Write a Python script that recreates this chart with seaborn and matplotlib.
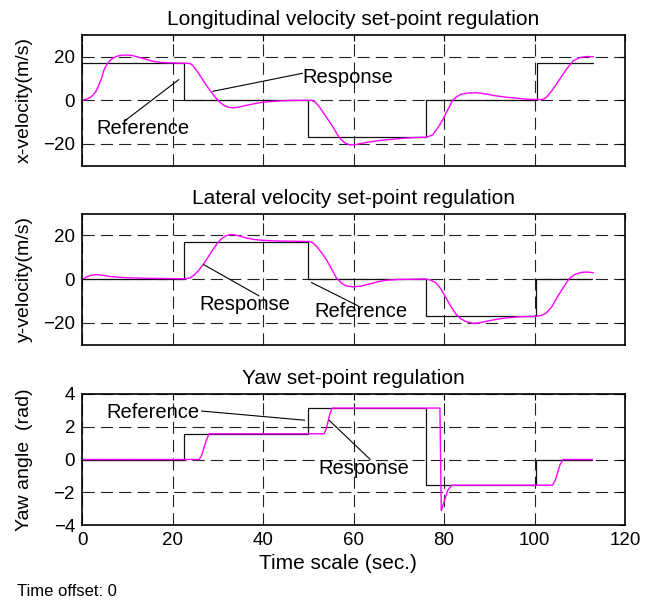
import matplotlib
matplotlib.use("Agg")
import matplotlib.pyplot as plt
import numpy as np
import pandas as pd
import seaborn as sns

# ---------------- data ----------------
# Longitudinal (x) velocity
x_ref_t = [0, 22.6, 50.0, 76.0, 100.5, 113.0]
x_ref_v = [17, 0, -17, 0, 17, 17]
x_resp_t = [0, 1, 2, 3, 3.7, 4.3, 4.8, 5.5, 6.3, 7, 7.8, 8.8, 10, 11, 12, 13, 13.7, 15, 16, 17.4,
            19, 21, 23.3, 24, 24.5, 25.5, 26.5, 27.5, 28.5, 29.5, 30.5, 31.5, 32.5, 33.3, 34.5, 36,
            38, 40, 43, 46, 50, 50.7, 51.5, 52.3, 53.2, 54.3, 55.4, 56.3, 57.3, 58.2, 59.1, 60.2,
            61.3, 63.5, 65.8, 68.7, 71.6, 74, 76, 76.7, 77.5, 78.6, 79.7, 80.4, 81.2, 81.9, 82.8,
            83.7, 85.3, 87, 89.2, 91.5, 93.4, 95.3, 98.2, 101.2, 102, 102.7, 103.8, 104.9, 106,
            107.1, 108.6, 110.1, 111.5, 113]
x_resp_v = [0, 0.5, 1.5, 3.8, 6.8, 10, 13.6, 16.5, 18.5, 19.6, 20.3, 20.7, 20.8, 20.6, 20.1, 19.5, 19.1, 18.3, 17.8, 17.4,
            17.2, 17.1, 17, 16.8, 15.9, 13.2, 10, 6.8, 3.9, 1.2, -1, -2.5, -3.3, -3.5, -3.2, -2.5,
            -1.6, -0.9, -0.4, -0.1, 0, 0, -0.8, -2.6, -5.3, -8.7, -12.1, -15.3, -18.2, -19.7, -20.5, -20.5,
            -20, -19.2, -18.5, -17.9, -17.4, -17.1, -17, -16.6, -15.9, -12.8, -9.1, -6, -3, 0, 1.6,
            2.7, 3.3, 3.5, 2.9, 2, 1.5, 1.1, 0.5, 0.3, 0.5, 1.5, 4.3, 7.6, 11,
            14.4, 18.2, 19.7, 20.1, 20]

# Lateral (y) velocity
y_ref_t = [0, 22.6, 49.9, 76.0, 100.4, 112.8]
y_ref_v = [0, 17, 0, -17, 0, 0]
y_resp_t = [0, 1, 2, 3.2, 4.5, 6, 8, 11, 15, 19, 22.6, 23.8, 24.8, 25.8, 26.8, 27.8, 28.8, 29.7,
            30.7, 31.7, 32.6, 33.5, 34.8, 36.3, 38, 40, 43, 46.7, 50.2, 51, 51.8, 52.9, 54, 55.1,
            56.2, 57.3, 58.4, 59.9, 61.5, 63.5, 65.5, 67.2, 70, 76, 77, 78.2, 79.3, 80.4, 81.5,
            82.6, 83.7, 84.8, 86.3, 87.8, 89.3, 91, 93, 96.6, 100.4, 101.5, 102.6, 103.9, 105.1,
            106.4, 107.6, 108.4, 109.2, 110.3, 111.5, 113]
y_resp_v = [0, 0.9, 1.7, 2.0, 1.7, 1.2, 0.8, 0.5, 0.3, 0.2, 0.1, 0.4, 1.8, 4, 6.7, 9.8, 13, 15.8,
            18.2, 19.7, 20.3, 20.3, 19.7, 18.8, 18.1, 17.7, 17.4, 17.3, 17.2, 16.6, 15, 12.2, 8.9, 4.8,
            0.6, -1.8, -3.2, -3.6, -3.3, -2.3, -1.2, -0.6, -0.2, 0, -0.5, -1.7, -4.5, -8.5, -12.5,
            -16, -18.2, -19.4, -20.3, -20.1, -19.4, -18.7, -18, -17.3, -17.1, -16.7, -15.6, -12.5, -8,
            -3.8, 0, 1.4, 2.3, 3, 3.2, 2.9]

# Yaw angle
yaw_ref_t = [0, 22.6, 49.9, 76.0, 100.4, 112.8]
yaw_ref_v = [0, 1.57, 3.14, -1.57, 0, 0]
yaw_resp_t = [0, 25.9, 26.5, 27.5, 28.1, 53.5, 54.0, 54.8, 55.3, 79.1, 79.4, 80.0, 80.8, 81.7,
              104.0, 104.6, 105.6, 106.3, 112.8]
yaw_resp_v = [0, 0, 0.3, 1.2, 1.57, 1.57, 1.9, 2.8, 3.14, 3.14, -3.12, -2.6, -1.9, -1.57,
              -1.57, -1.25, -0.35, 0, 0]

x_ticks = [0, 20, 40, 60, 80, 100, 120]
vel_ticks = [-20, 0, 20]
yaw_ticks = [-4, -2, 0, 2, 4]

titles = ["Longitudinal velocity set-point regulation",
          "Lateral velocity set-point regulation",
          "Yaw set-point regulation"]
ylabels = ["x-velocity(m/s)", "y-velocity(m/s)", "Yaw angle  (rad)"]

# ---------------- style ----------------
sns.set_theme(style="white")
plt.rcParams["font.family"] = ["Liberation Sans", "DejaVu Sans"]
plt.rcParams["axes.edgecolor"] = "black"
plt.rcParams["text.color"] = "black"
plt.rcParams["axes.labelcolor"] = "black"
plt.rcParams["xtick.color"] = "black"
plt.rcParams["ytick.color"] = "black"

fig = plt.figure(figsize=(6.56, 6.0), dpi=100)
W, H = 656.0, 600.0
left, right = 82.0, 625.0
boxes = [(35.0, 165.5), (213.5, 344.5), (394.0, 525.0)]
axes = []
for top, bot in boxes:
    ax = fig.add_axes([left / W, 1 - bot / H, (right - left) / W, (bot - top) / H])
    axes.append(ax)

series = [
    (x_ref_t, x_ref_v, x_resp_t, x_resp_v, (-30, 30), vel_ticks),
    (y_ref_t, y_ref_v, y_resp_t, y_resp_v, (-30, 30), vel_ticks),
    (yaw_ref_t, yaw_ref_v, yaw_resp_t, yaw_resp_v, (-4, 4), yaw_ticks),
]

assert len(x_resp_t) == len(x_resp_v)
assert len(y_resp_t) == len(y_resp_v)
assert len(yaw_resp_t) == len(yaw_resp_v)

for i, (ax, (rt, rv, st, sv, ylim, yt)) in enumerate(zip(axes, series)):
    ref_df = pd.DataFrame({"t": rt, "v": rv})
    resp_df = pd.DataFrame({"t": st, "v": sv})
    sns.lineplot(data=ref_df, x="t", y="v", ax=ax, color="#111111", lw=0.9,
                 drawstyle="steps-post", estimator=None, sort=False)
    sns.lineplot(data=resp_df, x="t", y="v", ax=ax, color="#ff00ff", lw=1.0,
                 estimator=None, sort=False)
    ax.set_xlim(0, 120)
    ax.set_ylim(*ylim)
    ax.set_xticks(x_ticks)
    ax.set_yticks(yt)
    ax.grid(True, color="#222222", linestyle=(0, (11, 5.5)), linewidth=0.8)
    ax.tick_params(direction="in", length=4, width=0.8, top=True, right=True,
                   labelsize=13.5, pad=5, colors="black")
    for s in ax.spines.values():
        s.set_linewidth(1.2)
        s.set_color("black")
    ax.set_title(titles[i], fontsize=15, pad=7, color="black")
    ax.set_ylabel(ylabels[i], fontsize=14)
    ax.yaxis.set_label_coords(-0.09, 0.5)
    if i < 2:
        ax.set_xticklabels([])
        ax.set_xlabel("")
    else:
        ax.set_xlabel("Time scale (sec.)", fontsize=15)
        ax.xaxis.set_label_coords(0.472, -0.225)

# annotations
line_kw = dict(arrowprops=dict(arrowstyle="-", color="black", lw=0.8, shrinkA=0, shrinkB=0))
afs = 14.5
ax = axes[0]
ax.annotate("", xy=(28.9, 4.1), xytext=(48.75, 12.4), **line_kw)
ax.text(48.8, 10.6, "Response", fontsize=afs, ha="left", va="center")
ax.annotate("", xy=(21.4, 9.5), xytext=(9.5, -9.4), **line_kw)
ax.text(13.5, -13.2, "Reference", fontsize=afs, ha="center", va="center")

ax = axes[1]
ax.annotate("", xy=(26.8, 6.7), xytext=(39.1, -7.7), **line_kw)
ax.text(36.0, -11.5, "Response", fontsize=afs, ha="center", va="center")
ax.annotate("", xy=(50.7, -1.6), xytext=(61.0, -12.3), **line_kw)
ax.text(61.6, -14.9, "Reference", fontsize=afs, ha="center", va="center")

ax = axes[2]
ax.annotate("", xy=(49.2, 2.4), xytext=(26.4, 2.96), **line_kw)
ax.text(15.7, 2.9, "Reference", fontsize=afs, ha="center", va="center")
ax.annotate("", xy=(54.6, 2.4), xytext=(63.7, 0.0), **line_kw)
ax.text(62.2, -0.57, "Response", fontsize=afs, ha="center", va="center")

fig.text(17 / W, 1 - 591 / H, "Time offset: 0", fontsize=12, ha="left", va="center")

fig.savefig("out.png", dpi=100)
